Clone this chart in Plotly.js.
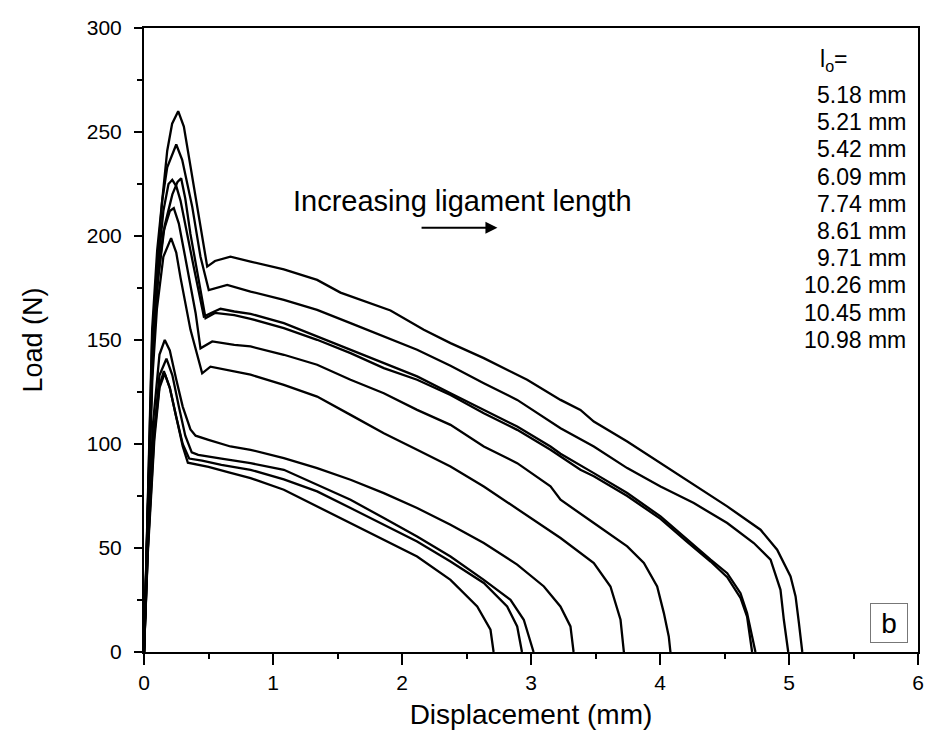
<!DOCTYPE html>
<html><head><meta charset="utf-8">
<script src="https://cdn.plot.ly/plotly-3.0.1.min.js"></script>
<style>html,body{margin:0;padding:0;background:#fff}</style>
</head><body>
<div id="chart" style="width:928px;height:751px"></div>
<script>
// Ligament lengths (text block at right)
const ligamentLabels = ['5.18 mm','5.21 mm','5.42 mm','6.09 mm','7.74 mm','8.61 mm','9.71 mm','10.26 mm','10.45 mm','10.98 mm'];

// Displacement (mm) / Load (N), one pair per specimen
const disp_5_18 = [0,0.03,0.08,0.12,0.16,0.2,0.25,0.3,0.34,0.5,0.65,0.826,1.084,1.342,1.601,1.859,2.117,2.376,2.583,2.686,2.71];
const load_5_18 = [0,48,102,127,134,127,113,99,91,89,86.5,83.6,78,70,62,54,45.9,34.7,21.9,10.7,0];

const disp_5_21 = [0,0.03,0.08,0.12,0.154,0.2,0.25,0.3,0.35,0.45,0.6,0.826,1.084,1.342,1.601,1.859,2.117,2.376,2.634,2.815,2.893,2.93];
const load_5_21 = [0,50,105,128,135,127,113,100,93,92,90,87.6,83,77.2,69.2,61.2,53.1,43.5,33.2,21.9,12.3,0];

const disp_5_42 = [0,0.03,0.07,0.12,0.174,0.22,0.27,0.32,0.37,0.42,0.6,0.826,1.084,1.342,1.601,1.859,2.117,2.376,2.634,2.841,2.944,3.02];
const load_5_42 = [0,50,100,133,141,133,118,104,96,94.8,93,90.8,87.6,80.4,73.2,64.4,55.5,45.9,34.7,25.1,15.5,0];

const disp_6_09 = [0,0.03,0.07,0.12,0.161,0.2,0.25,0.3,0.36,0.4,0.5,0.67,0.826,1.084,1.342,1.601,1.859,2.117,2.376,2.634,2.893,3.1,3.228,3.306,3.33];
const load_6_09 = [0,55,110,143,150,145,131,118,107,104,102,98.8,97.2,93.2,88.4,82.8,76.4,69.2,61.2,52.4,42,31.5,21.9,12.3,0];

const disp_7_74 = [0,0.03,0.065,0.1,0.15,0.21,0.25,0.283,0.36,0.451,0.515,0.7,0.826,1.084,1.342,1.601,1.859,2.117,2.376,2.634,2.789,3.229,3.487,3.616,3.694,3.72];
const load_7_74 = [0,68,132,165,190,199,192,180,155,134,137.2,134.8,133.3,128.4,122.8,114,105.2,97.2,89.2,79.6,73.2,54.8,42.8,31.5,15.5,0];

const disp_8_61 = [0,0.03,0.065,0.1,0.15,0.2,0.231,0.27,0.309,0.4,0.438,0.529,0.7,0.826,1.084,1.342,1.601,1.859,2.117,2.376,2.634,2.893,3.151,3.229,3.487,3.746,3.875,3.978,4.03,4.068,4.081];
const load_8_61 = [0,70,138,175,202,212,213.4,206,193.3,163,146,149.3,147.7,146.9,142.9,138.1,130.9,124.4,116.4,109.2,98.8,90.8,79.6,73.2,62,50.8,42.8,31.5,18.7,7.5,0];

const disp_9_71 = [0,0.03,0.065,0.11,0.16,0.22,0.26,0.288,0.32,0.36,0.451,0.477,0.55,0.7,0.826,1.084,1.342,1.601,1.859,2.117,2.376,2.634,2.893,3.151,3.383,3.487,3.746,4.004,4.21,4.392,4.521,4.624,4.675,4.714];
const load_9_71 = [0,70,140,180,205,220,226,227.8,218,201,169,160.5,163,162,160.2,155.7,150.1,143.7,136.5,130.9,123.6,114.8,106.8,97.2,87.6,84.5,75,64,53,43.5,36,26,17,0];

const disp_10_26 = [0,0.03,0.065,0.1,0.15,0.19,0.219,0.25,0.283,0.386,0.464,0.52,0.593,0.7,0.826,1.084,1.342,1.601,1.859,2.117,2.376,2.634,2.893,3.151,3.229,3.487,3.746,4.004,4.21,4.392,4.521,4.624,4.675,4.701,4.74];
const load_10_26 = [0,72,145,180,212,225,227,224,217,185,161.3,163,165,163.7,162.6,158.1,151.7,145.3,138.9,132.5,124.4,116.4,108.4,98.8,95.3,86,76.4,65.2,54,44.4,37.9,28.3,18.7,10.7,0];

const disp_10_45 = [0,0.03,0.063,0.1,0.141,0.18,0.25,0.296,0.374,0.438,0.502,0.645,0.826,1.084,1.342,1.601,1.859,2.117,2.376,2.634,2.893,3.229,3.487,3.746,4.004,4.262,4.521,4.727,4.857,4.934,4.96,4.994];
const load_10_45 = [0,75,150,185,217,233,244,236.6,214,190,174,176.5,173.3,169.3,164.5,158.1,151.7,145.3,137.6,129.2,121.2,107.6,98.8,88.4,79.6,71.6,62,52.4,44.4,29.9,15.5,0];

const disp_10_98 = [0,0.03,0.063,0.102,0.154,0.18,0.218,0.265,0.309,0.36,0.425,0.477,0.49,0.55,0.67,0.826,1.084,1.342,1.523,1.911,2.169,2.376,2.634,2.97,3.229,3.383,3.487,3.746,4.004,4.262,4.521,4.779,4.908,5.012,5.051,5.077,5.103];
const load_10_98 = [0,75,155,193,225,241,254,260,252.6,233.3,207.7,188.5,185.3,188,190.1,187.7,184,178.9,172.8,164.2,154.9,148.5,141.3,130.9,121.2,116.4,110.8,101.2,90.8,80.4,70,58.8,49.2,36.3,26.7,13.9,0];

const xTicks = [0,1,2,3,4,5,6];
const yTicks = [0,50,100,150,200,250,300];

const series = [
  [disp_5_18, load_5_18], [disp_5_21, load_5_21], [disp_5_42, load_5_42],
  [disp_6_09, load_6_09], [disp_7_74, load_7_74], [disp_8_61, load_8_61],
  [disp_9_71, load_9_71], [disp_10_26, load_10_26], [disp_10_45, load_10_45],
  [disp_10_98, load_10_98]
];

const traces = series.map((s, i) => ({
  x: s[0], y: s[1], type: 'scatter', mode: 'lines', name: ligamentLabels[i],
  line: {color: '#000', width: 2.3}, showlegend: false, hoverinfo: 'x+y+name'
}));

const FONT = 'Liberation Sans, Arial, sans-serif';

// plot area in pixels: left 144, right 918, top 28, bottom 652
const pyToPaper = py => 1 - (py - 28) / 624;
const pxToPaper = px => (px - 144) / 774;

const annotations = [];
annotations.push({
  xref: 'paper', yref: 'paper', x: pxToPaper(818), y: pyToPaper(60),
  xanchor: 'left', yanchor: 'middle', showarrow: false,
  text: 'l<sub>o</sub>=', font: {family: FONT, size: 23, color: '#000'}
});
ligamentLabels.forEach((t, i) => {
  annotations.push({
    xref: 'paper', yref: 'paper', x: pxToPaper(908), y: pyToPaper(95 + 27.2 * i),
    xanchor: 'right', yanchor: 'middle', showarrow: false,
    text: t, font: {family: FONT, size: 23, color: '#000'}
  });
});
annotations.push({
  xref: 'x', yref: 'y', x: 2.47, y: 217, showarrow: false,
  text: 'Increasing ligament length', font: {family: FONT, size: 29, color: '#000'}
});
annotations.push({
  xref: 'x', yref: 'y', x: 2.74, y: 204, axref: 'x', ayref: 'y', ax: 2.14, ay: 204,
  showarrow: true, arrowhead: 2, arrowsize: 1.2, arrowwidth: 2, arrowcolor: '#000', text: ''
});
annotations.push({
  xref: 'paper', yref: 'paper', x: pxToPaper(889), y: pyToPaper(623),
  xanchor: 'center', yanchor: 'middle', showarrow: false, text: 'b',
  font: {family: FONT, size: 28, color: '#000'},
  bordercolor: '#777', borderwidth: 1, borderpad: 0, width: 36, height: 38, bgcolor: '#fff'
});

const axisCommon = {
  showgrid: false, zeroline: false, showline: true, linecolor: '#000', linewidth: 2,
  mirror: true, ticks: 'outside', tickcolor: '#000', tickwidth: 2,
  tickfont: {family: FONT, size: 21, color: '#000'}, automargin: false
};

const layout = {
  width: 928, height: 751,
  margin: {l: 144, r: 10, t: 28, b: 99},
  paper_bgcolor: '#fff', plot_bgcolor: '#fff',
  showlegend: false,
  xaxis: Object.assign({}, axisCommon, {
    range: [0, 6], tickvals: xTicks, ticktext: xTicks.map(String), ticklen: 11,
    minor: {dtick: 0.5, ticks: 'outside', ticklen: 5, tickwidth: 2, tickcolor: '#000', showgrid: false},
    title: {text: 'Displacement (mm)', font: {family: FONT, size: 28, color: '#000'}, standoff: 11}
  }),
  yaxis: Object.assign({}, axisCommon, {
    range: [0, 300], tickvals: yTicks, ticktext: yTicks.map(String), ticklen: 8,
    ticklabelstandoff: 8,
    minor: {dtick: 25, ticks: 'outside', ticklen: 5, tickwidth: 2, tickcolor: '#000', showgrid: false},
    title: {text: 'Load (N)', font: {family: FONT, size: 27, color: '#000'}, standoff: 36}
  }),
  annotations: annotations
};

Plotly.newPlot('chart', traces, layout, {displayModeBar: false, staticPlot: true});
</script>
</body></html>
